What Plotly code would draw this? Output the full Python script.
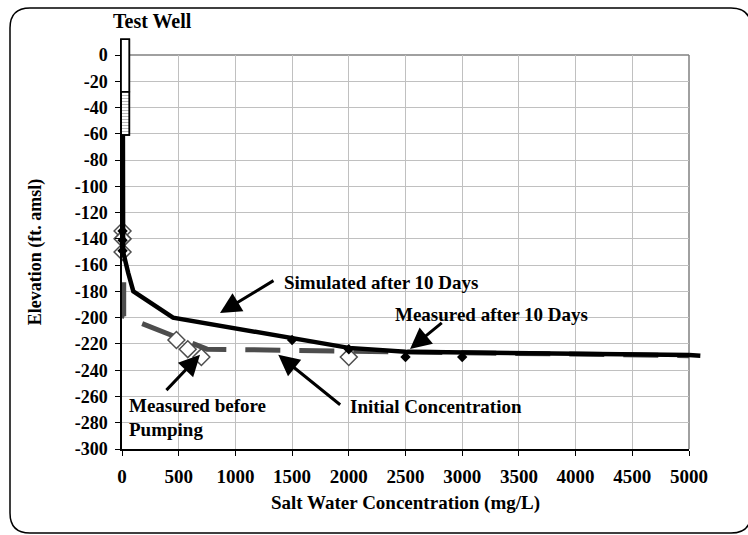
import plotly.graph_objects as go

# ---------------- data ----------------
X_RANGE = [0, 5000]
Y_RANGE = [-300, 0]
x_ticks = list(range(0, 5001, 500))
y_ticks = list(range(-300, 1, 20))
y_tick_text = [str(v) for v in y_ticks]

# Simulated after 10 Days (solid black)
sim_x = [8, 10, 55, 100, 450, 1500, 2000, 2500, 5000]
sim_y = [-61, -150, -166, -180, -200, -215, -223, -226, -228.5]
sim_ext_x = [5000, 5100]
sim_ext_y = [-228.5, -229]

# Initial Concentration (grey dashed)
init_x = [15, 15, 750, 5000]
init_y = [-173, -199, -224, -229]

# Measured before Pumping (open diamonds)
before_x = [5, 5, 5, 480, 580, 700, 2000]
before_y = [-134, -140, -150, -217, -224, -230, -230]

# Measured after 10 Days (filled diamonds)
after_x = [5, 5, 5, 1500, 2000, 2500, 3000]
after_y = [-134, -141, -149, -217, -224, -230, -230]

# Test well (casing + screen)
well_x = [-10, 65]
well_casing_y = [12, -28]
well_screen_y = [-28, -61]

# ---------------- layout geometry ----------------
W, H = 748, 535
ML, MR, MT, MB = 122, 59, 55, 86
PW, PH = W - ML - MR, H - MT - MB

def xp(v):
    return (v - X_RANGE[0]) / (X_RANGE[1] - X_RANGE[0])

def yp(v):
    return (v - Y_RANGE[0]) / (Y_RANGE[1] - Y_RANGE[0])

def px2x(px):
    return (px - ML) / PW

def py2y(py):
    return (H - MB - py) / PH

FONT = "Liberation Serif"

fig = go.Figure()

# hatched screen part of the well
fig.add_trace(go.Scatter(
    x=[well_x[0], well_x[1], well_x[1], well_x[0], well_x[0]],
    y=[well_screen_y[0], well_screen_y[0], well_screen_y[1], well_screen_y[1], well_screen_y[0]],
    mode="lines", fill="toself", fillcolor="white",
    fillpattern=dict(shape="-", fgcolor="#777777", bgcolor="white", size=3, solidity=0.35),
    line=dict(color="black", width=1.5), hoverinfo="skip", showlegend=False))

fig.add_trace(go.Scatter(
    x=init_x, y=init_y, mode="lines", name="Initial Concentration",
    line=dict(color="#4d4d4d", width=5, dash="35px,19px"), showlegend=False))

fig.add_trace(go.Scatter(
    x=before_x, y=before_y, mode="markers", name="Measured before Pumping",
    cliponaxis=False,
    marker=dict(symbol="diamond", size=13, color="white",
                line=dict(color="#4d4d4d", width=1.5)), showlegend=False))

fig.add_trace(go.Scatter(
    x=sim_x, y=sim_y, mode="lines", name="Simulated after 10 Days",
    line=dict(color="black", width=4.5), showlegend=False))

fig.add_trace(go.Scatter(
    x=after_x, y=after_y, mode="markers", name="Measured after 10 Days",
    cliponaxis=False,
    marker=dict(symbol="diamond", size=8, color="black"), showlegend=False))

shapes = []
# extension of the simulated line past the axis end (not clipped)
shapes.append(dict(type="line", xref="paper", yref="paper",
                   x0=xp(sim_ext_x[0]), y0=yp(sim_ext_y[0]),
                   x1=xp(sim_ext_x[1]), y1=yp(sim_ext_y[1]),
                   line=dict(color="black", width=4.5)))
# well casing box (extends above plot)
shapes.append(dict(type="rect", xref="paper", yref="paper",
                   x0=xp(well_x[0]), x1=xp(well_x[1]),
                   y0=yp(well_casing_y[1]), y1=yp(well_casing_y[0]),
                   fillcolor="white", line=dict(color="black", width=1.5)))
shapes.append(dict(type="rect", xref="paper", yref="paper",
                   x0=xp(well_x[0]), x1=xp(well_x[1]),
                   y0=yp(well_screen_y[1]), y1=yp(well_casing_y[0]),
                   line=dict(color="black", width=1.5)))
# top and right plot border (grey)
shapes.append(dict(type="line", xref="paper", yref="paper", x0=0, x1=1, y0=1, y1=1,
                   line=dict(color="#808080", width=1.5), layer="below"))
shapes.append(dict(type="line", xref="paper", yref="paper", x0=1, x1=1, y0=0, y1=1,
                   line=dict(color="#808080", width=1.5), layer="below"))

# rounded outer frame
L, T, R, B, r = 10, 8, 751, 533, 20
pts = [("M", L + r, T), ("L", R - r, T), ("Q", R, T, R, T + r), ("L", R, B - r),
       ("Q", R, B, R - r, B), ("L", L + r, B), ("Q", L, B, L, B - r), ("L", L, T + r),
       ("Q", L, T, L + r, T)]
path = ""
for p in pts:
    cmd = p[0]
    coords = p[1:]
    s = []
    for i in range(0, len(coords), 2):
        s.append(f"{px2x(coords[i]):.5f},{py2y(coords[i+1]):.5f}")
    path += cmd + " ".join(s) + " "
path += "Z"
shapes.append(dict(type="path", xref="paper", yref="paper", path=path,
                   line=dict(color="black", width=1.5)))

afont = dict(family=FONT, size=19, color="black", weight="bold")

annotations = [
    dict(text="Test Well", xref="paper", yref="paper", x=px2x(152), y=py2y(21),
         xanchor="center", yanchor="middle", showarrow=False,
         font=dict(family=FONT, size=20, color="black", weight="bold")),
    dict(text="Simulated after 10 Days", x=1408, y=-173.5, xanchor="left",
         yanchor="middle", showarrow=False, font=afont),
    dict(text="Measured after 10 Days", x=2392, y=-197.5, xanchor="left",
         yanchor="middle", showarrow=False, font=afont),
    dict(text="Measured before", x=41, y=-266.5, xanchor="left",
         yanchor="middle", showarrow=False, font=afont),
    dict(text="Pumping", x=41, y=-285.5, xanchor="left",
         yanchor="middle", showarrow=False, font=afont),
    dict(text="Initial Concentration", x=1995, y=-267.7, xanchor="left",
         yanchor="middle", showarrow=False, font=afont),
]
arrows = [
    ((1349, -171.1), (864, -196.5)),
    ((2833, -203), (2540, -223.8)),
    ((379, -256.3), (688, -228.3)),
    ((1937, -267.2), (1378, -228.3)),
]
for (tx, ty), (hx, hy) in arrows:
    annotations.append(dict(x=hx, y=hy, ax=tx, ay=ty, axref="x", ayref="y",
                            xref="x", yref="y", text="", showarrow=True,
                            arrowhead=2, arrowsize=1.4, arrowwidth=3,
                            arrowcolor="black"))

fig.update_layout(
    width=W, height=H,
    margin=dict(l=ML, r=MR, t=MT, b=MB, autoexpand=False),
    paper_bgcolor="white", plot_bgcolor="white",
    shapes=shapes, annotations=annotations,
    showlegend=False,
    font=dict(family=FONT, color="black"),
    xaxis=dict(range=X_RANGE, tickvals=x_ticks, ticks="outside", ticklen=5,
               tickcolor="black", showline=True, linecolor="black", linewidth=1.5,
               showgrid=True, gridcolor="#c0c0c0", gridwidth=1, zeroline=False,
               tickfont=dict(family=FONT, size=19, weight="bold"),
               ticklabelstandoff=4, automargin=False,
               title=dict(text="Salt Water Concentration (mg/L)", standoff=10,
                          font=dict(family=FONT, size=19, weight="bold"))),
    yaxis=dict(range=Y_RANGE, tickvals=y_ticks, ticktext=y_tick_text,
               ticks="outside", ticklen=5, automargin=False,
               tickcolor="black", showline=True, linecolor="black", linewidth=1.5,
               showgrid=True, gridcolor="#c0c0c0", gridwidth=1, zeroline=False,
               tickfont=dict(family=FONT, size=18, weight="bold"),
               ticklabelstandoff=4,
               title=dict(text="Elevation (ft. amsl)", standoff=28,
                          font=dict(family=FONT, size=18, weight="bold"))),
)

fig.write_html("out.html", config={"displayModeBar": False},
               post_script="document.body.style.margin='0';")
